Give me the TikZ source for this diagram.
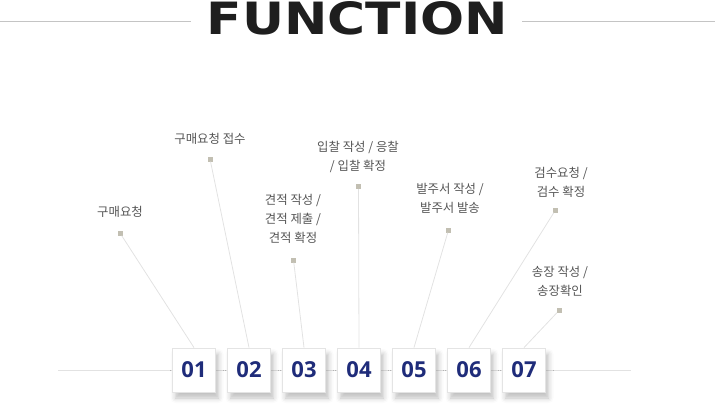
\documentclass[tikz,border=0pt]{standalone}
\usepackage{fontspec}
\setmainfont{Open Sans}
\newfontfamily\kor{Noto Sans CJK KR}
\newfontfamily\ttl{DejaVu Sans}
\usetikzlibrary{shadows.blur}
\definecolor{linegray}{HTML}{E2E2E2}
\definecolor{titleline}{HTML}{C4C4C4}
\definecolor{dotcol}{HTML}{C2BFB2}
\definecolor{navy}{HTML}{1F2C7A}
\definecolor{txt}{HTML}{555555}
\definecolor{boxline}{HTML}{E4E4E4}
\definecolor{titlecol}{HTML}{1E1E1E}
\tikzset{
  numbox/.style={draw=boxline, line width=0.8pt, fill=white, minimum width=43pt, minimum height=44pt, inner sep=0pt,
    text=navy, font=\fontsize{22}{22}\selectfont\bfseries,
    blur shadow={shadow xshift=3pt, shadow yshift=-6pt, shadow blur radius=5pt, shadow opacity=25}},
  dot/.style={fill=dotcol, minimum size=5pt, inner sep=0pt},
  lbl/.style={text=txt, font=\kor\fontsize{12.4}{19}\selectfont, align=center, inner sep=0pt},
  conn/.style={draw=linegray, line width=0.8pt},
}
\begin{document}
\begin{tikzpicture}[x=1pt,y=-1pt]
\useasboundingbox (0,0) rectangle (715,410);
% title
\node[inner sep=0pt, text=titlecol] (title) at (357.5,18.5) {\resizebox{301pt}{33pt}{\ttl\bfseries FUNCTION}};
\coordinate (tl1) at (0,21);
\coordinate (tl2) at (191,21);
\coordinate (tr1) at (522,21);
\coordinate (tr2) at (715,21);
\draw[titleline, line width=0.8pt] (tl1) -- (tl2);
\draw[titleline, line width=0.8pt] (tr1) -- (tr2);
% baseline
\coordinate (bl) at (58,370);
\coordinate (br) at (631,370);
\draw[conn] (bl) -- (br);
% dots
\node[dot] (d1) at (120,233) {};
\node[dot] (d2) at (210,159) {};
\node[dot] (d3) at (293.5,260) {};
\node[dot] (d4) at (358.5,186.5) {};
\node[dot] (d5) at (448.5,230) {};
\node[dot] (d6) at (555.5,210) {};
\node[dot] (d7) at (559.5,310) {};
% labels
\node[lbl] (l1) at (120,212) {구매요청};
\node[lbl] (l2) at (210,139) {구매요청 접수};
\node[lbl] (l3) at (293,218.5) {견적 작성 /\\견적 제출 /\\견적 확정};
\node[lbl] (l4) at (358,156.5) {입찰 작성 / 응찰\\/ 입찰 확정};
\node[lbl] (l5) at (450,198.5) {발주서 작성 /\\발주서 발송};
\node[lbl] (l6) at (561,182.5) {검수요청 /\\검수 확정};
\node[lbl] (l7) at (560,281) {송장 작성 /\\송장확인};
% boxes
\foreach \i/\t in {1/01,2/02,3/03,4/04,5/05,6/06,7/07}{
  \node[numbox] (b\i) at ({194+55*(\i-1)},370) {\t};
}
% connectors
\foreach \i in {1,...,7}{
  \draw[conn] (d\i) -- (b\i.north);
}
\end{tikzpicture}
\end{document}
